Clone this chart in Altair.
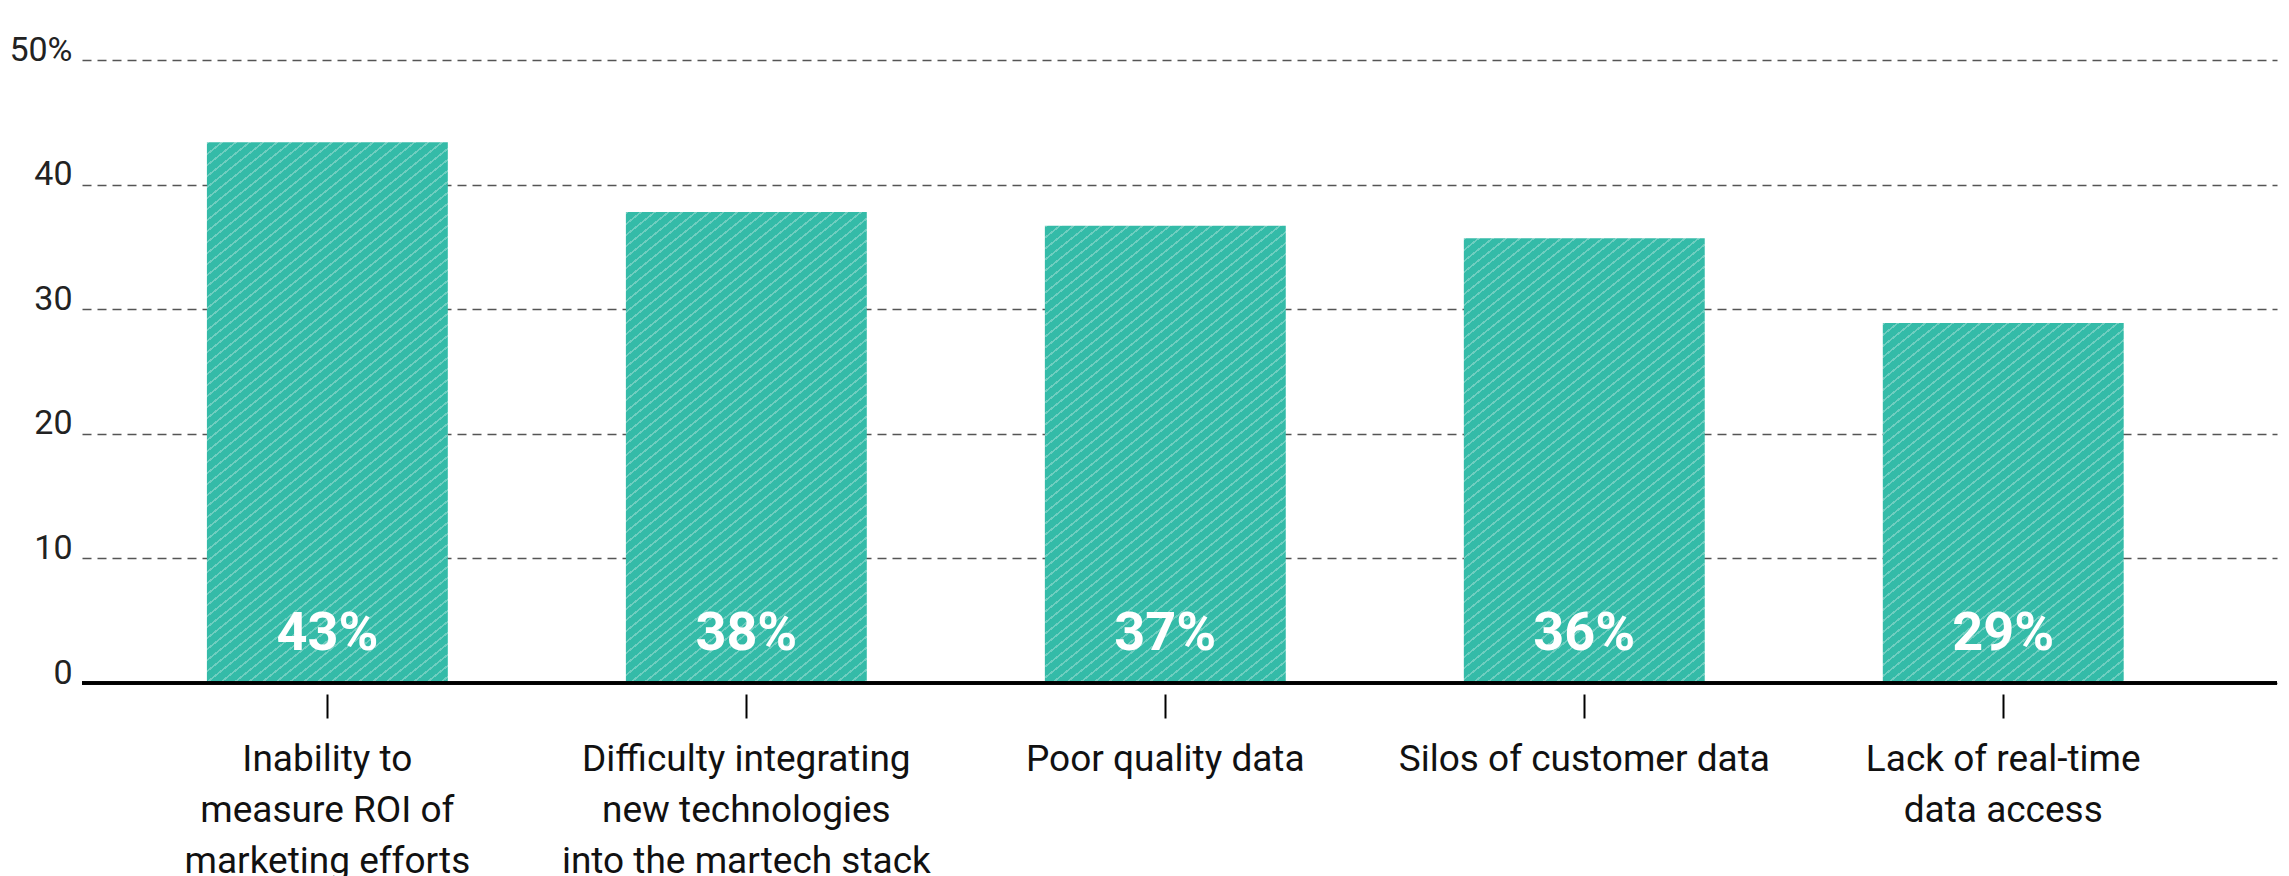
import altair as alt
import pandas as pd

# ---- data ----
categories = [
    "Inability to\nmeasure ROI of\nmarketing efforts",
    "Difficulty integrating\nnew technologies\ninto the martech stack",
    "Poor quality data",
    "Silos of customer data",
    "Lack of real-time\ndata access",
]
values = [43.4, 37.8, 36.7, 35.7, 28.9]
value_labels = ["43%", "38%", "37%", "36%", "29%"]
y_ticks = [0, 10, 20, 30, 40, 50]

df = pd.DataFrame({"cat": categories, "value": values, "label": value_labels,
                   "idx": list(range(len(categories)))})

# ---- layout / style ----
PW, PH = 2195, 623
PI, PO, ALIGN = 0.425, 0.332, 0.449
FONT = "Roboto, 'Liberation Sans Narrow', sans-serif"
BG = "#34BBA8"
LINE = "#6FCEC0"

step = PW / (len(categories) - PI + 2 * PO)
bw = step * (1 - PI)

# hatch stripes: t = (A*x + B*y) / K in pixels
A, B, K = 0.8, 1.0, 1000.0
period, lw = 11.0, 2.2
stops = []
s = 0.0
while s + lw < K:
    a, b = s / K, (s + lw) / K
    stops += [{"offset": a, "color": BG}, {"offset": a, "color": LINE},
              {"offset": b, "color": LINE}, {"offset": b, "color": BG}]
    s += period

def hatch(v):
    h = v / 50.0 * PH
    S = A * A * bw * bw + B * B * h * h
    return {"gradient": "linear", "x1": 0, "y1": 0,
            "x2": K * A * bw / S, "y2": K * B * h / S, "stops": stops}

xs = alt.Scale(domain=categories, paddingInner=PI, paddingOuter=PO, align=ALIGN)
ys = alt.Scale(domain=[0, 50], nice=False)

x_enc = alt.X("cat:N", scale=xs, sort=categories, title=None,
              axis=alt.Axis(labelAngle=0, labelExpr="split(datum.label, '\\n')",
                            labelFontSize=37, labelFont=FONT, labelColor="#111",
                            labelLineHeight=51, labelPadding=23, labelBaseline="top",
                            labelLimit=0,
                            tickSize=24, tickWidth=2, tickColor="#000",
                            domain=False, offset=11, grid=False))
y_enc = alt.Y("value:Q", scale=ys, title=None,
              axis=alt.Axis(values=y_ticks,
                            labelExpr="datum.value == 50 ? '50%' : datum.label",
                            labelFontSize=34, labelFont=FONT, labelColor="#222",
                            labelBaseline="alphabetic", labelAlign="right",
                            labelPadding=10, ticks=False, tickSize=0, domain=False,
                            grid=True, gridDash=[9, 6], gridColor="#555", gridWidth=1.5))

base = alt.Chart(df)

layers = []
for i, v in enumerate(values):
    layers.append(
        base.transform_filter(alt.datum.idx == i)
        .mark_bar(fill=hatch(v), strokeWidth=0)
        .encode(x=x_enc, y=y_enc)
    )

rule = base.mark_rule(color="#000", strokeWidth=3).encode(y=alt.datum(0))

text = base.mark_text(color="white", font=FONT, fontSize=54, fontWeight="bold",
                      baseline="alphabetic", align="center", dy=-33).encode(
    x=alt.X("cat:N", scale=xs, sort=categories),
    y=alt.datum(0),
    text="label:N",
)

chart = alt.layer(*layers, rule, text).properties(
    width=PW, height=PH,
    autosize=alt.AutoSizeParams(type="none"),
    padding={"left": 74, "top": 52, "right": 4, "bottom": 200},
    background="white",
).configure_view(stroke=None)

chart.save("out.html", embed_options={"renderer": "svg", "actions": False})
